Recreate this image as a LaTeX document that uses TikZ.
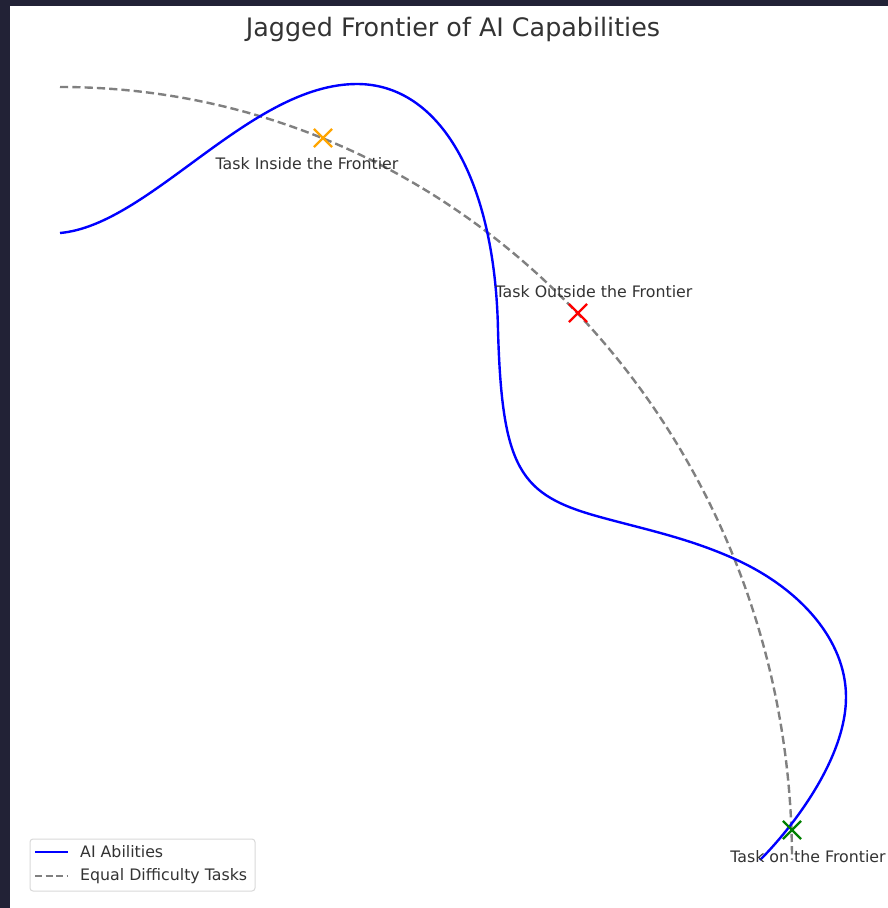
\documentclass[tikz,border=0pt]{standalone}
\usepackage{fontspec}
\setmainfont{DejaVu Sans}
\usetikzlibrary{shapes.misc}
\definecolor{frame}{HTML}{222236}
\definecolor{txt}{HTML}{333333}
\definecolor{mblue}{HTML}{0000FF}
\definecolor{mgray}{HTML}{808080}
\definecolor{morange}{HTML}{FFA500}
\definecolor{mred}{HTML}{FF0000}
\definecolor{mgreen}{HTML}{008000}
\tikzset{
  ability/.style={draw=mblue, line width=2.4pt},
  equal/.style={draw=mgray, line width=2.4pt, dash pattern=on 8.2pt off 4.1pt},
  xmark/.style={cross out, draw=#1, line width=2.2pt, minimum size=16pt, inner sep=0pt},
  lbl/.style={text=txt, font=\fontsize{15.8}{18}\selectfont, inner sep=0pt},
}
\begin{document}
\begin{tikzpicture}[x=1pt,y=-1pt]
\useasboundingbox (0,0) rectangle (888,908);
\fill[frame] (0,0) rectangle (888,908);
\fill[white] (10,6) rectangle (888,908);
\node[text=txt, font=\fontsize{25.4}{30}\selectfont, inner sep=0pt] (title) at (453,29) {Jagged Frontier of AI Capabilities};
% equal difficulty arc
\coordinate (arcstart) at (60,87);
\draw[equal] (arcstart) arc[start angle=-90, end angle=0, x radius=732, y radius=773];
% AI abilities
\coordinate (a0) at (60,233);
\coordinate (a1) at (357,84);
\coordinate (a2) at (498,330);
\coordinate (a3) at (600,517);
\coordinate (a4) at (737,560);
\coordinate (a5) at (846,697);
\coordinate (a6) at (760,860);
\draw[ability] (a0) .. controls (150,225) and (250,84) .. (a1)
  .. controls (440,84) and (495,180) .. (a2)
  .. controls (502,470) and (520,495) .. (a3)
  .. controls (645,529.4) and (690,538.4) .. (a4)
  .. controls (800,589) and (846,640) .. (a5)
  .. controls (846,760) and (790,830) .. (a6);
% markers
\node[xmark=morange] (inside) at (323,138) {};
\node[xmark=mred] (outside) at (578,313) {};
\node[xmark=mgreen] (on) at (792,830) {};
\node[lbl] (linside) at (307,164) {Task Inside the Frontier};
\node[lbl] (loutside) at (594,292) {Task Outside the Frontier};
\node[lbl] (lon) at (808,857) {Task on the Frontier};
% legend
\node[draw=black!15, line width=1pt, rounded corners=3pt, fill=white, minimum width=225pt, minimum height=52pt, inner sep=0pt] (legend) at (142.5,865) {};
\coordinate (la1) at (35,852);
\coordinate (la2) at (68,852);
\coordinate (lb1) at (35,876);
\coordinate (lb2) at (68,876);
\draw[ability] (la1) -- (la2);
\draw[equal, dash pattern=on 7pt off 3.5pt] (lb1) -- (lb2);
\node[lbl, anchor=west] (lta) at (80,852) {AI Abilities};
\node[lbl, anchor=west] (ltb) at (80,876) {Equal Difficulty Tasks};
\end{tikzpicture}
\end{document}
